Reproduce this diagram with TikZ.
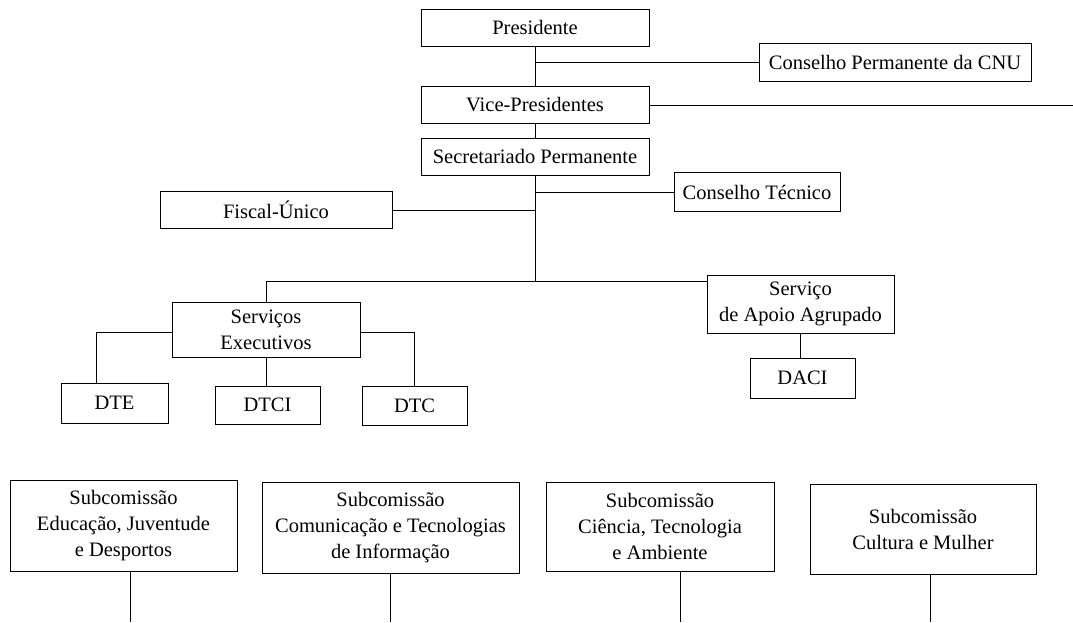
\documentclass[tikz,border=0pt]{standalone}
\usepackage{fontspec}
\setmainfont{Liberation Serif}
\begin{document}
\begin{tikzpicture}[x=1pt,y=-1pt,
  box/.style={draw=black, line width=1pt, inner sep=0pt, align=center,
    font=\fontsize{20.5}{26}\selectfont},
  conn/.style={draw=black, line width=1pt}]
\useasboundingbox (0,0) rectangle (1073,622);
% top chain
\node[box, minimum width=228, minimum height=37] (pres) at (535,27.5) {Presidente};
\node[box, minimum width=272, minimum height=38] (cnu) at (895,62) {Conselho Permanente da CNU};
\node[box, minimum width=228, minimum height=37] (vice) at (535,105) {Vice-Presidentes};
\node[box, minimum width=228, minimum height=37] (sec) at (535,156.5) {Secretariado Permanente};
\node[box, minimum width=166, minimum height=39] (ct) at (757,192) {Conselho Técnico};
\node[box, minimum width=232, minimum height=37] (fiscal) at (276,210) {Fiscal-Único};
% services
\node[box, minimum width=188, minimum height=55] (sexec) at (266,329.5) {Serviços\\Executivos};
\node[box, minimum width=187, minimum height=58] (sapoio) at (800.5,304) {Serviço\\de Apoio Agrupado};
\node[box, minimum width=105, minimum height=40] (daci) at (802.5,378) {DACI};
\node[box, minimum width=107, minimum height=40] (dte) at (114.5,403) {DTE};
\node[box, minimum width=105, minimum height=38] (dtci) at (267.5,405) {DTCI};
\node[box, minimum width=105, minimum height=39] (dtc) at (414.5,405.5) {DTC};
% subcommissions
\node[box, minimum width=227, minimum height=91] (sub1) at (123.5,525.5) {Subcomissão\\Educação, Juventude\\e Desportos};
\node[box, minimum width=257, minimum height=91] (sub2) at (390.5,527.5) {Subcomissão\\Comunicação e Tecnologias\\de Informação};
\node[box, minimum width=228, minimum height=89] (sub3) at (660,526.5) {Subcomissão\\Ciência, Tecnologia\\e Ambiente};
\node[box, minimum width=226, minimum height=90] (sub4) at (923,529) {Subcomissão\\Cultura e Mulher};
% helper coordinates
\coordinate (vend) at (1073,105);
\coordinate (hub) at (535,281);
\coordinate (dtek) at (96,332);
\coordinate (l1) at (130,622);
\coordinate (l2) at (390,622);
\coordinate (l3) at (680,622);
\coordinate (l4) at (930,622);
% connectors
\draw[conn] (pres.south) -- (vice.north);
\draw[conn] (cnu.west) -- (cnu.west -| pres.south);
\draw[conn] (vice.east) -- (vend);
\draw[conn] (vice.south) -- (sec.north);
\draw[conn] (sec.south) -- (hub);
\draw[conn] (ct.west) -- (ct.west -| hub);
\draw[conn] (fiscal.east) -- (fiscal.east -| hub);
\draw[conn] (hub) -| (sexec.north);
\draw[conn] (hub) -- (hub -| sapoio.west);
\draw[conn] (sapoio.south) -- (sapoio.south |- daci.north);
\draw[conn] (sexec.west |- dtek) -- (dtek) -- (dtek |- dte.north);
\draw[conn] (sexec.south) -- (sexec.south |- dtci.north);
\draw[conn] (sexec.east |- dtek) -| (dtc.north);
\draw[conn] (l1 |- sub1.south) -- (l1);
\draw[conn] (l2 |- sub2.south) -- (l2);
\draw[conn] (l3 |- sub3.south) -- (l3);
\draw[conn] (l4 |- sub4.south) -- (l4);
\end{tikzpicture}
\end{document}
